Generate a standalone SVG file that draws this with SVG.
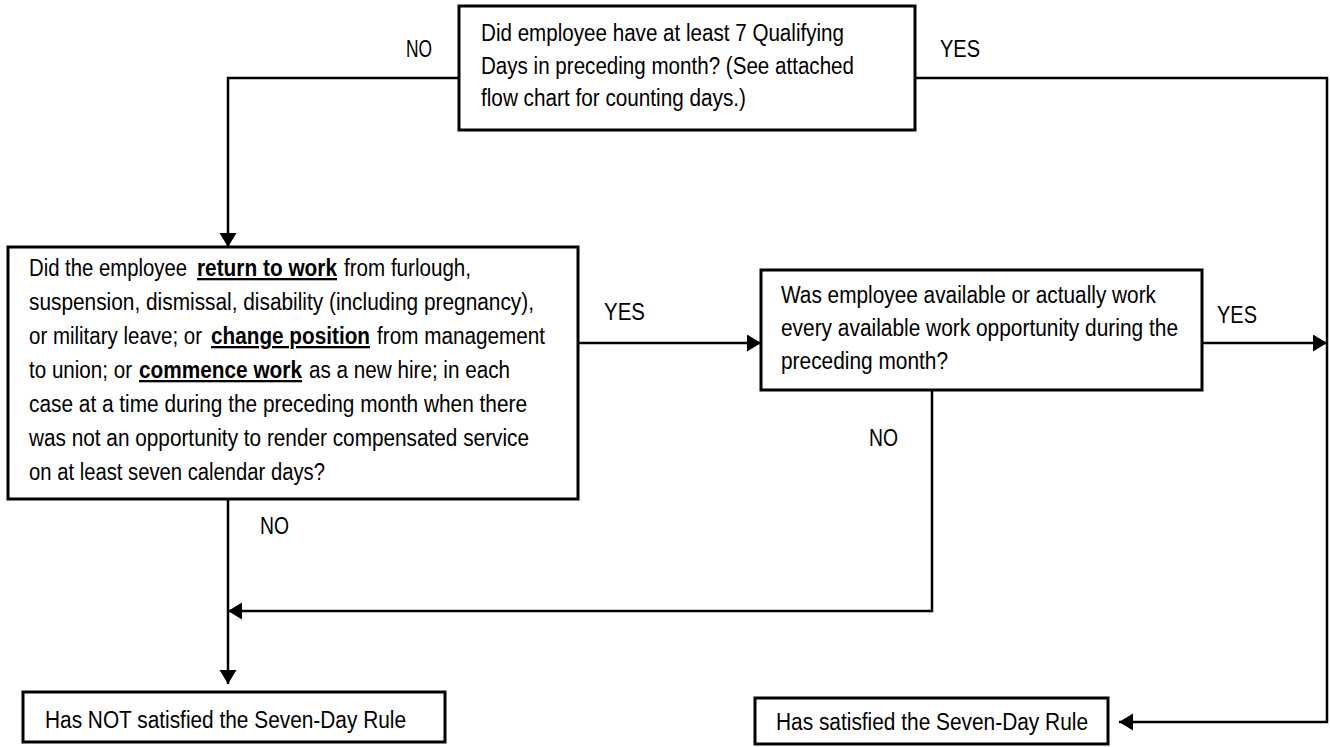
<svg xmlns="http://www.w3.org/2000/svg" width="1330" height="747" viewBox="0 0 1330 747">
<defs>
<style>
.box{fill:#fff;stroke:#000;stroke-width:3}
.conn{fill:none;stroke:#000;stroke-width:2.5}
text{font-family:"Liberation Sans Narrow","Liberation Sans",Arial,sans-serif;font-size:23px;fill:#000}
.b{font-weight:bold;text-decoration:underline}
</style>
<marker id="arr" markerUnits="userSpaceOnUse" markerWidth="16" markerHeight="18" refX="14" refY="8.5" orient="auto">
<path d="M0,0 L14,8.5 L0,17 Z" fill="#000"/>
</marker>
</defs>
<rect width="1330" height="747" fill="#fff"/>
<g id="connectors">
<path class="conn" d="M459,78 H228 V247" marker-end="url(#arr)"/>
<path class="conn" d="M915,78 H1327 V722 H1119" marker-end="url(#arr)"/>
<path class="conn" d="M578,343 H761" marker-end="url(#arr)"/>
<path class="conn" d="M1202,343 H1327" marker-end="url(#arr)"/>
<path class="conn" d="M932,390 V611 H228" marker-end="url(#arr)"/>
<path class="conn" d="M228,499 V684" marker-end="url(#arr)"/>
<text x="406" y="57" textLength="26" lengthAdjust="spacingAndGlyphs">NO</text>
<text x="940" y="57" textLength="40" lengthAdjust="spacingAndGlyphs">YES</text>
<text x="604" y="320" textLength="41" lengthAdjust="spacingAndGlyphs">YES</text>
<text x="1217" y="323" textLength="40" lengthAdjust="spacingAndGlyphs">YES</text>
<text x="869" y="446" textLength="29" lengthAdjust="spacingAndGlyphs">NO</text>
<text x="260" y="534" textLength="29" lengthAdjust="spacingAndGlyphs">NO</text>
</g>
<g id="q1">
<rect class="box" x="459" y="6" width="456" height="124"/>
<text x="481" y="41" textLength="363" lengthAdjust="spacingAndGlyphs">Did employee have at least 7 Qualifying</text>
<text x="481" y="74" textLength="373" lengthAdjust="spacingAndGlyphs">Days in preceding month? (See attached</text>
<text x="481" y="106" textLength="265" lengthAdjust="spacingAndGlyphs">flow chart for counting days.)</text>
</g>
<g id="q2">
<rect class="box" x="8" y="247" width="570" height="252"/>
<text x="29" y="276" textLength="158" lengthAdjust="spacingAndGlyphs">Did the employee</text>
<text class="b" x="197" y="276" textLength="140" lengthAdjust="spacingAndGlyphs">return to work</text>
<text x="344" y="276" textLength="127" lengthAdjust="spacingAndGlyphs">from furlough,</text>
<text x="29" y="310" textLength="505" lengthAdjust="spacingAndGlyphs">suspension, dismissal, disability (including pregnancy),</text>
<text x="29" y="344" textLength="173" lengthAdjust="spacingAndGlyphs">or military leave; or</text>
<text class="b" x="211" y="344" textLength="159" lengthAdjust="spacingAndGlyphs">change position</text>
<text x="377" y="344" textLength="168" lengthAdjust="spacingAndGlyphs">from management</text>
<text x="29" y="378" textLength="103" lengthAdjust="spacingAndGlyphs">to union; or</text>
<text class="b" x="139" y="378" textLength="163" lengthAdjust="spacingAndGlyphs">commence work</text>
<text x="309" y="378" textLength="201" lengthAdjust="spacingAndGlyphs">as a new hire; in each</text>
<text x="29" y="412" textLength="498" lengthAdjust="spacingAndGlyphs">case at a time during the preceding month when there</text>
<text x="29" y="446" textLength="500" lengthAdjust="spacingAndGlyphs">was not an opportunity to render compensated service</text>
<text x="29" y="480" textLength="296" lengthAdjust="spacingAndGlyphs">on at least seven calendar days?</text>
</g>
<g id="q3">
<rect class="box" x="761" y="270" width="441" height="120"/>
<text x="781" y="303" textLength="375" lengthAdjust="spacingAndGlyphs">Was employee available or actually work</text>
<text x="781" y="336" textLength="397" lengthAdjust="spacingAndGlyphs">every available work opportunity during the</text>
<text x="781" y="369" textLength="167" lengthAdjust="spacingAndGlyphs">preceding month?</text>
</g>
<g id="notSatisfied">
<rect class="box" x="23" y="692" width="422" height="50"/>
<text x="45" y="728" textLength="361" lengthAdjust="spacingAndGlyphs">Has NOT satisfied the Seven-Day Rule</text>
</g>
<g id="satisfied">
<rect class="box" x="755" y="698" width="353" height="46"/>
<text x="776" y="730" textLength="312" lengthAdjust="spacingAndGlyphs">Has satisfied the Seven-Day Rule</text>
</g>
</svg>
